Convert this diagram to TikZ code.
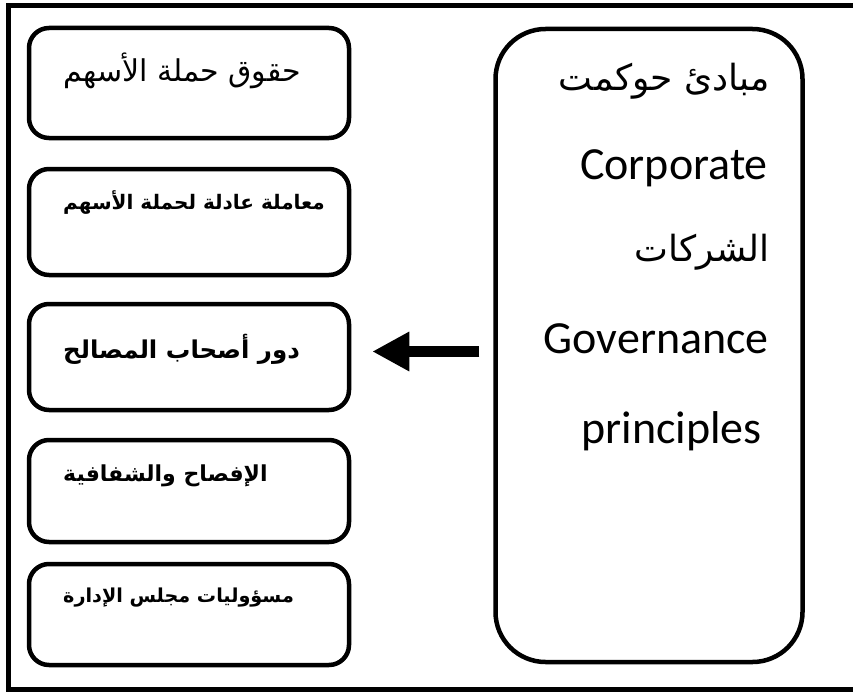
\documentclass[tikz,border=0pt]{standalone}
\usepackage{fontspec}
\setmainfont{Carlito}
\newfontfamily\arabicfont[Script=Arabic]{DejaVu Sans}
\TeXXeTstate=1
\usetikzlibrary{arrows.meta}
\newcommand\arsize[1]{\arabicfont\bfseries\fontsize{#1}{#1}\selectfont}
\begin{document}
\begin{tikzpicture}[x=1pt,y=-1pt,
  itembox/.style={draw, line width=4.5pt, rounded corners=20pt,
    minimum width=320pt, inner sep=0pt},
  mainbox/.style={draw, line width=4.5pt, rounded corners=50pt,
    minimum width=307pt, minimum height=633pt, inner sep=0pt},
  itemtext/.style={anchor=west, inner sep=0pt},
  maintext/.style={anchor=east, inner sep=0pt, font=\fontsize{46}{50}\selectfont},
  mainar/.style={anchor=east, inner sep=0pt, font=\arabicfont\fontsize{36}{40}\selectfont},
  bigarrow/.style={line width=11.5pt, -{Triangle[length=37pt,width=37pt]}}]
\useasboundingbox (0,0) rectangle (853,693);
% outer frame, open on the right
\draw[line width=5pt] (853,5.5) -- (8.5,5.5) -- (8.5,689) -- (853,689);

% column of principles
\node[itembox, minimum height=110pt] (b1) at (189,83) {};
\node[itembox, minimum height=106pt] (b2) at (189,222) {};
\node[itembox, minimum height=106pt] (b3) at (189,357) {};
\node[itembox, minimum height=102pt] (b4) at (189,491) {};
\node[itembox, minimum height=101pt] (b5) at (189,614.5) {};

\node[itemtext, font=\arabicfont\fontsize{30}{34}\selectfont] (t1) at (63,71) {\beginR حقوق حملة الأسهم\endR};
\node[itemtext, font=\arsize{20}] (t2) at (63,203) {\beginR معاملة عادلة لحملة الأسهم\endR};
\node[itemtext, font=\arsize{24.5}] (t3) at (63,349) {\beginR دور أصحاب المصالح\endR};
\node[itemtext, font=\arsize{22}] (t4) at (63,476) {\beginR الإفصاح والشفافية\endR};
\node[itemtext, font=\arsize{19.2}] (t5) at (63,598) {\beginR مسؤوليات مجلس الإدارة\endR};

% main concept
\node[mainbox] (m) at (649,345.5) {};
\node[mainar] (m1) at (770,81) {\beginR مبادئ حوكمت\endR};
\node[maintext] (m2) at (768,168) {Corporate};
\node[mainar] (m3) at (770,252) {\beginR الشركات\endR};
\node[maintext] (m4) at (769,339) {Governance};
\node[maintext] (m5) at (762,431) {principles};

% arrow from the concept to the principles
\draw[bigarrow, shorten <=14pt, shorten >=21pt] (m.west |- 0,351.5) -- (b3.east |- 0,351.5);
\end{tikzpicture}
\end{document}
